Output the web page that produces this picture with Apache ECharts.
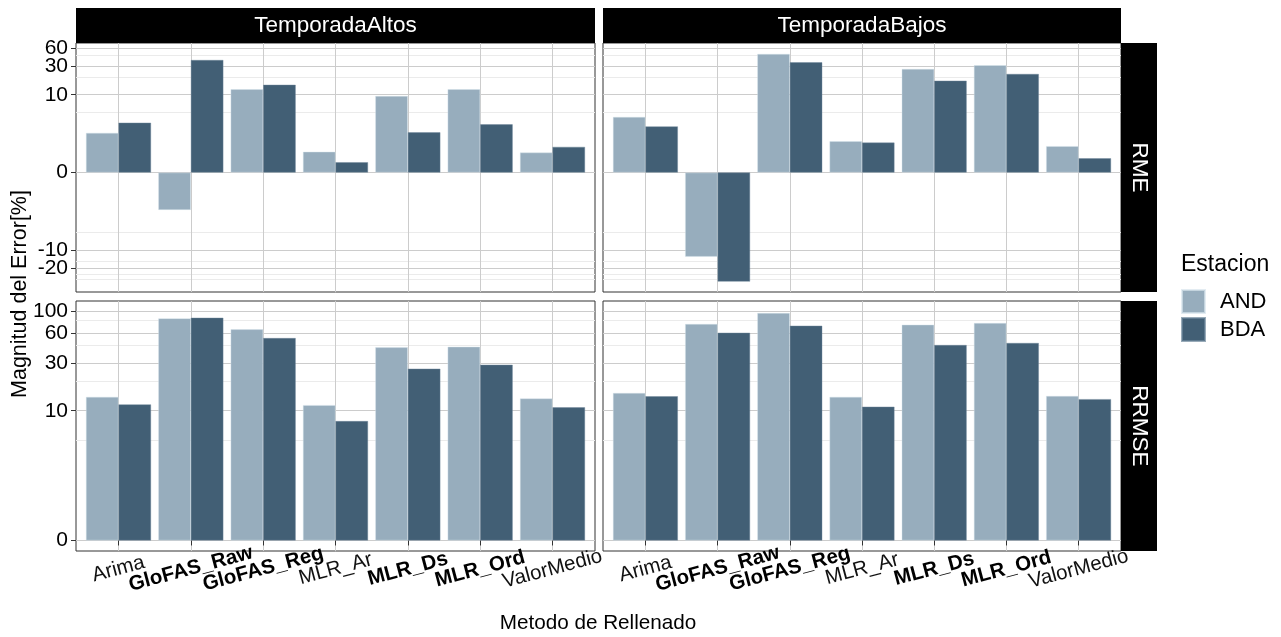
<!DOCTYPE html>
<html>
<head>
<meta charset="utf-8">
<script src="https://cdn.jsdelivr.net/npm/echarts@6/dist/echarts.min.js"></script>
<style>html,body{margin:0;padding:0;background:#fff}#c{width:1281px;height:637px}</style>
</head>
<body>
<div id="c"></div>
<script>
// ---- data (values in %) ----
const categories = ['Arima','GloFAS_Raw','GloFAS_Reg','MLR_Ar','MLR_Ds','MLR_Ord','ValorMedio'];
const boldCategories = ['GloFAS_Raw','GloFAS_Reg','MLR_Ds','MLR_Ord'];
const seasons = ['TemporadaAltos','TemporadaBajos'];
const metrics = ['RME','RRMSE'];
const stations = ['AND','BDA'];

const rmeAltosAND   = [2.20, -1.99, 12.35, 0.89, 9.5, 12.35, 0.85];
const rmeAltosBDA   = [3.34, 38.2, 14.7, 0.41, 2.25, 3.13, 1.16];
const rmeBajosAND   = [4.20, -12.75, 48.2, 1.52, 27.0, 31.2, 1.20];
const rmeBajosBDA   = [2.88, -33.4, 35.0, 1.43, 17.2, 22.3, 0.58];
const rrmseAltosAND = [13.8, 84.8, 65.8, 11.4, 43.4, 44.0, 13.3];
const rrmseAltosBDA = [11.6, 86.0, 53.8, 7.87, 26.5, 29.0, 10.83];
const rrmseBajosAND = [15.1, 74.4, 95.9, 13.8, 73.2, 76.1, 14.1];
const rrmseBajosBDA = [14.0, 60.8, 71.5, 10.99, 45.8, 48.0, 13.1];

const rmeTicks = [-20, -10, 0, 10, 30, 60];
const rmeMinor = [-30, -25, -15, -5, 5, 20, 45];
const rrmseTicks = [0, 10, 30, 60, 100];
const rrmseMinor = [5, 20, 45, 80];

// ---- build ----
const FONT = '"Liberation Sans", Arial, Helvetica, sans-serif';
const colAND = '#97adbd', colBDA = '#425f75';
const tr = v => Math.asinh(v);   // pseudo-log (asinh) y transform

const gridBoxes = [
  {left: 76,  top: 43,  width: 519, height: 249},
  {left: 603, top: 43,  width: 518, height: 249},
  {left: 76,  top: 301, width: 519, height: 250},
  {left: 603, top: 301, width: 518, height: 250}
];
const panels = [
  {metric: 0, season: 0, and: rmeAltosAND,   bda: rmeAltosBDA},
  {metric: 0, season: 1, and: rmeBajosAND,   bda: rmeBajosBDA},
  {metric: 1, season: 0, and: rrmseAltosAND, bda: rrmseAltosBDA},
  {metric: 1, season: 1, and: rrmseBajosAND, bda: rrmseBajosBDA}
];
const yRange = [{min: -4.60, max: 4.99}, {min: -0.243, max: 5.534}];
const majorTicks = [rmeTicks, rrmseTicks];
const minorTicks = [rmeMinor, rrmseMinor];

function labelAxis(gridIndex, p, ticks) {
  const leftCol = p.season === 0;
  return {
    type: 'value', gridIndex: gridIndex, position: 'left',
    min: yRange[p.metric].min, max: yRange[p.metric].max,
    axisLine: {show: false},
    splitLine: {show: false},
    axisTick: {show: leftCol, length: 5, customValues: ticks, lineStyle: {color: '#333'}},
    axisLabel: {
      show: leftCol, customValues: ticks, margin: 8, hideOverlap: false,
      showMinLabel: true, showMaxLabel: true,
      fontFamily: FONT, fontSize: 21, color: '#000',
      formatter: v => String(Math.round(Math.sinh(v)))
    }
  };
}

const grid = [], xAxis = [], yAxis = [], series = [], yAxisB = [];
// outer grids: frame, y axis and horizontal grid lines
panels.forEach((p, i) => {
  grid.push(Object.assign({show: true, borderColor: '#333333', borderWidth: 1, backgroundColor: '#fff'}, gridBoxes[i]));
  xAxis.push({type: 'value', gridIndex: i, min: 0, max: 1, show: false});
  const ticks = majorTicks[p.metric].map(tr);
  // labels split over two coincident axes so that tightly spaced labels all stay visible
  yAxis.push(labelAxis(i, p, ticks.filter((_, k) => k % 2 === 0)));
  yAxisB.push(labelAxis(i, p, ticks.filter((_, k) => k % 2 === 1)));
  const lines = [];
  minorTicks[p.metric].forEach(v => lines.push({yAxis: tr(v), lineStyle: {color: '#ebebeb', width: 1, type: 'solid'}}));
  majorTicks[p.metric].forEach(v => lines.push({yAxis: tr(v), lineStyle: {color: '#cccccc', width: 1, type: 'solid'}}));
  series.push({
    type: 'line', name: '_hgrid', xAxisIndex: i, yAxisIndex: i, data: [], z: 0, silent: true,
    markLine: {silent: true, symbol: ['none', 'none'], label: {show: false}, animation: false, z: 0, data: lines}
  });
});
// inner grids: category band expanded by 0.6 units each side (ggplot discrete expansion)
panels.forEach((p, i) => {
  const b = gridBoxes[i];
  const unit = b.width / (categories.length + 1.2);
  const inset = unit * 0.1;
  grid.push({left: b.left + inset, top: b.top, width: b.width - 2 * inset, height: b.height, show: false});
  const gi = 4 + i;
  const bottom = p.metric === 1;
  xAxis.push({
    type: 'category', gridIndex: gi, data: categories,
    axisLine: {show: false},
    axisTick: {show: bottom, alignWithLabel: true, length: 5, lineStyle: {color: '#333'}},
    splitLine: {show: false},
    axisLabel: {
      show: bottom, rotate: 15, interval: 0, margin: 18,
      align: 'center', verticalAlign: 'middle',
      formatter: v => boldCategories.includes(v) ? '{b|' + v + '}' : '{n|' + v + '}',
      rich: {
        b: {fontFamily: FONT, fontSize: 20.5, fontWeight: 'bold', color: '#000'},
        n: {fontFamily: FONT, fontSize: 20.5, color: '#111'}
      }
    }
  });
  yAxis.push({type: 'value', gridIndex: gi, min: yRange[p.metric].min, max: yRange[p.metric].max, show: false, splitLine: {show: false}});
  series.push({
    type: 'line', name: '_vgrid', xAxisIndex: gi, yAxisIndex: gi, data: [], z: 0, silent: true,
    markLine: {silent: true, symbol: ['none', 'none'], label: {show: false}, animation: false, z: 0,
      data: categories.map(c => ({xAxis: c, lineStyle: {color: '#cccccc', width: 1, type: 'solid'}}))}
  });
  [['AND', p.and, colAND, 'rgba(215,228,236,0.7)'], ['BDA', p.bda, colBDA, 'rgba(110,135,155,0.7)']].forEach(([name, vals, col, bc]) => {
    series.push({
      type: 'bar', name: name, xAxisIndex: gi, yAxisIndex: gi, z: 3,
      data: vals.map(tr),
      barCategoryGap: '10%', barGap: '0%',
      itemStyle: {color: col, borderColor: bc, borderWidth: 0.6},
      emphasis: {disabled: true}
    });
  });
});
yAxisB.forEach(a => yAxis.push(a));

const graphic = [];
seasons.forEach((s, j) => {
  const g = gridBoxes[j];
  graphic.push({type: 'rect', shape: {x: g.left, y: 8, width: g.width, height: 35}, style: {fill: '#000'}});
  graphic.push({type: 'text', x: g.left + g.width / 2, y: 26,
    style: {text: s, fill: '#fff', font: '22.5px ' + FONT, textAlign: 'center', textVerticalAlign: 'middle'}});
});
metrics.forEach((m, j) => {
  const g = gridBoxes[j * 2 + 1];
  graphic.push({type: 'rect', shape: {x: 1121, y: g.top, width: 36, height: g.height}, style: {fill: '#000'}});
  graphic.push({type: 'text', x: 1139, y: g.top + g.height / 2, rotation: -Math.PI / 2,
    style: {text: m, fill: '#fff', font: '22.5px ' + FONT, textAlign: 'center', textVerticalAlign: 'middle'}});
});
graphic.push({type: 'text', x: 598, y: 623,
  style: {text: 'Metodo de Rellenado', fill: '#000', font: '20.7px ' + FONT, textAlign: 'center', textVerticalAlign: 'middle'}});
graphic.push({type: 'text', x: 20, y: 294, rotation: Math.PI / 2,
  style: {text: 'Magnitud del Error[%]', fill: '#000', font: '21.5px ' + FONT, textAlign: 'center', textVerticalAlign: 'middle'}});
graphic.push({type: 'text', x: 1181, y: 265,
  style: {text: 'Estacion', fill: '#000', font: '23px ' + FONT, textAlign: 'left', textVerticalAlign: 'middle'}});

const chart = echarts.init(document.getElementById('c'), null, {renderer: 'canvas'});
chart.setOption({
  animation: false,
  backgroundColor: '#fff',
  grid, xAxis, yAxis, series, graphic,
  legend: {
    data: stations, orient: 'vertical', left: 1181, top: 289, padding: 0,
    itemWidth: 23, itemHeight: 23, itemGap: 3, icon: 'rect',
    selectedMode: false,
    textStyle: {fontFamily: FONT, fontSize: 22, color: '#000', padding: [0, 0, 0, 10]}
  }
});
</script>
</body>
</html>
